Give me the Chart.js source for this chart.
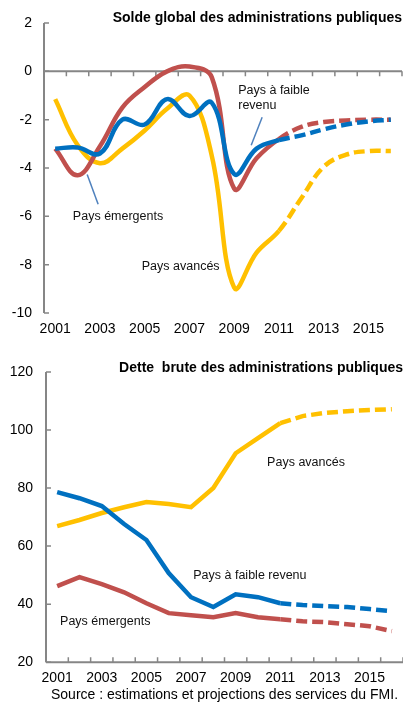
<!DOCTYPE html>
<html>
<head>
<meta charset="utf-8">
<script src="https://cdn.jsdelivr.net/npm/chart.js@4"></script>
<style>
  body { margin: 0; background: #fff; }
  #wrap { position: relative; width: 403px; height: 704px; }
  canvas { position: absolute; left: 0; }
  #solde { top: 0; }
  #dette { top: 345px; }
</style>
</head>
<body>
<div id="wrap">
  <canvas id="solde" width="403" height="338"></canvas>
  <canvas id="dette" width="403" height="359"></canvas>
</div>
<script>
// years and values
const YEARS = ['2001', '2002', '2003', '2004', '2005', '2006', '2007', '2008',
    '2009', '2010', '2011', '2012', '2013', '2014', '2015', '2016'];
const PROJECTION_START = 10; // 2011 onward is dashed

// Solde global (% du PIB)
const SOLDE_AVANCES = [-1.15, -3.05, -3.8, -3.2, -2.45, -1.55, -1.0, -3.5, -8.95, -7.5, -6.6, -5.25, -3.95, -3.45, -3.3, -3.3];
const SOLDE_EMERGENTS = [-3.2, -4.3, -3.1, -1.5, -0.65, 0.0, 0.2, -0.25, -4.85, -3.6, -2.8, -2.3, -2.1, -2.03, -2.0, -2.0];
const SOLDE_FAIBLE = [-3.2, -3.15, -3.4, -2.0, -2.2, -1.15, -1.85, -1.3, -4.25, -3.2, -2.85, -2.65, -2.4, -2.2, -2.07, -2.0];

// Dette brute (% du PIB)
const DETTE_AVANCES = [66.9, 69.0, 71.4, 73.4, 75.2, 74.5, 73.4, 80.0, 92.0, 97.2, 102.4, 104.8, 105.9, 106.5, 106.9, 107.2];
const DETTE_EMERGENTS = [46.2, 49.3, 46.9, 44.1, 40.3, 36.9, 36.2, 35.5, 36.9, 35.5, 34.8, 34.1, 33.8, 33.1, 32.4, 30.7];
const DETTE_FAIBLE = [78.6, 76.5, 73.8, 67.6, 62.1, 50.7, 42.4, 39.0, 43.4, 42.4, 40.3, 39.7, 39.3, 39.0, 38.3, 37.6];

const YELLOW = '#FFC000';
const RED = '#C0504D';
const BLUE = '#0070C0';
const AXIS_COLOR = '#868686';
const FONT = "'Liberation Sans', Arial, sans-serif";

Chart.defaults.font.family = FONT;
Chart.defaults.color = '#000';

// axis line, y axis, and inward tick marks
const axisMarks = {
    id: 'axisMarks',
    beforeDatasetsDraw(chart, args, opts) {
        const {ctx, chartArea: a, scales: {x, y}} = chart;
        const base = y.getPixelForValue(opts.base);
        ctx.save();
        ctx.strokeStyle = AXIS_COLOR;
        ctx.lineWidth = 2;
        ctx.beginPath();
        ctx.moveTo(a.left, a.top);
        ctx.lineTo(a.left, a.bottom);
        ctx.moveTo(a.left, base);
        ctx.lineTo(a.right, base);
        ctx.stroke();
        ctx.lineWidth = 1.5;
        ctx.beginPath();
        for (let i = 0; i <= YEARS.length; i++) {
            const px = x.getPixelForValue(i - 0.5);
            ctx.moveTo(px, base);
            ctx.lineTo(px, base + opts.dir * 5);
        }
        y.ticks.forEach(t => {
            const py = y.getPixelForValue(t.value);
            ctx.moveTo(a.left, py);
            ctx.lineTo(a.left + 5, py);
        });
        ctx.stroke();
        ctx.restore();
    }
};

// series names and pointer lines
const notes = {
    id: 'notes',
    afterDatasetsDraw(chart, args, opts) {
        const {ctx, scales: {x, y}} = chart;
        ctx.save();
        ctx.strokeStyle = '#4F81BD';
        ctx.lineWidth = 1.5;
        (opts.leaders || []).forEach(l => {
            ctx.beginPath();
            ctx.moveTo(x.getPixelForValue(l.from[0]), y.getPixelForValue(l.from[1]));
            ctx.lineTo(x.getPixelForValue(l.to[0]), y.getPixelForValue(l.to[1]));
            ctx.stroke();
        });
        ctx.fillStyle = '#111';
        ctx.font = '12.5px ' + FONT;
        ctx.textAlign = 'left';
        ctx.textBaseline = 'middle';
        (opts.texts || []).forEach(t => {
            ctx.fillText(t.text, x.getPixelForValue(t.x), y.getPixelForValue(t.y));
        });
        ctx.restore();
    }
};

function series(data, color, order) {
    return {
        data: data,
        borderColor: color,
        backgroundColor: color,
        borderWidth: 4.5,
        pointRadius: 0,
        order: order,
        segment: {
            borderDash: c => c.p0DataIndex >= PROJECTION_START ? [11, 5] : undefined
        }
    };
}

function initConfig(title, datasets, yOpts, extra) {
    return {
        type: 'line',
        data: {labels: YEARS, datasets: datasets},
        options: {
            responsive: false,
            animation: false,
            layout: {padding: extra.padding},
            elements: {line: {tension: extra.tension, borderCapStyle: 'butt'}},
            scales: {
                x: {
                    offset: true,
                    grid: {display: false, drawTicks: false},
                    border: {display: false},
                    ticks: {
                        autoSkip: false,
                        maxRotation: 0,
                        padding: 8,
                        font: {size: 14},
                        callback: (v, i) => i % 2 === 0 ? YEARS[i] : ''
                    },
                    afterFit: s => { s.height = 25; }
                },
                y: {
                    min: yOpts.min,
                    max: yOpts.max,
                    grid: {display: false, drawTicks: false},
                    border: {display: false},
                    ticks: {stepSize: yOpts.step, padding: yOpts.pad, font: {size: 14}},
                    afterFit: s => { s.width = yOpts.width; }
                }
            },
            plugins: {
                legend: {display: false},
                tooltip: {enabled: false},
                title: {
                    display: true,
                    text: title,
                    align: 'end',
                    fullSize: false,
                    font: {size: 14, weight: 'bold'},
                    padding: extra.titlePadding
                },
                subtitle: extra.subtitle,
                axisMarks: extra.axisMarks,
                notes: extra.notes
            }
        },
        plugins: [axisMarks, notes]
    };
}

new Chart(document.getElementById('solde'), initConfig(
    'Solde global des administrations publiques',
    [series(SOLDE_AVANCES, YELLOW, 3), series(SOLDE_EMERGENTS, RED, 2), series(SOLDE_FAIBLE, BLUE, 1)],
    {min: -10, max: 2, step: 2, pad: 12, width: 44},
    {
        padding: {left: 0, right: 1, top: 0, bottom: 0},
        tension: 0.4,
        titlePadding: {top: 9.6, bottom: -3.4},
        subtitle: {display: false},
        axisMarks: {base: 0, dir: 1},
        notes: {
            texts: [
                {text: 'Pays à faible', x: 8.18, y: -0.8},
                {text: 'revenu', x: 8.18, y: -1.42},
                {text: 'Pays émergents', x: 0.79, y: -6.0},
                {text: 'Pays avancés', x: 3.87, y: -8.07}
            ],
            leaders: [
                {from: [9.25, -1.9], to: [8.76, -3.06]},
                {from: [1.43, -4.27], to: [1.92, -5.5]}
            ]
        }
    }
));

new Chart(document.getElementById('dette'), initConfig(
    'Dette  brute des administrations publiques',
    [series(DETTE_AVANCES, YELLOW, 3), series(DETTE_EMERGENTS, RED, 2), series(DETTE_FAIBLE, BLUE, 1)],
    {min: 20, max: 120, step: 20, pad: 13, width: 46},
    {
        padding: {left: 0, right: 0, top: 0, bottom: 0},
        tension: 0,
        titlePadding: {top: 14.6, bottom: -4.4},
        subtitle: {
            display: true,
            position: 'bottom',
            fullSize: false,
            text: 'Source : estimations et projections des services du FMI.',
            font: {size: 14},
            color: '#000',
            padding: {top: 0, bottom: 0}
        },
        axisMarks: {base: 20, dir: -1},
        notes: {
            texts: [
                {text: 'Pays avancés', x: 9.41, y: 88.7},
                {text: 'Pays à faible revenu', x: 6.1, y: 49.8},
                {text: 'Pays émergents', x: 0.13, y: 33.9}
            ]
        }
    }
));
</script>
</body>
</html>
